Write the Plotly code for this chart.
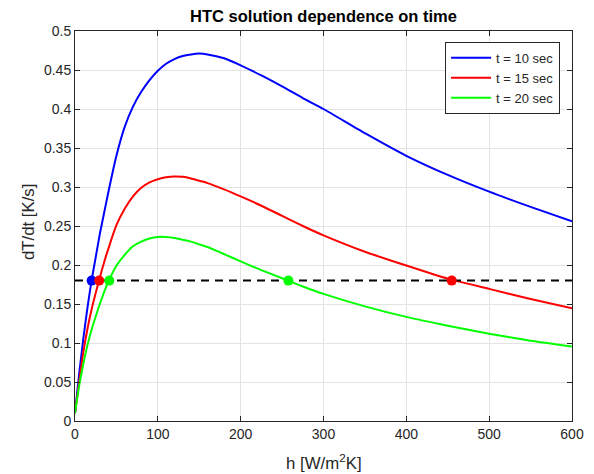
import plotly.graph_objects as go

# h values [W/m^2K]
h = [0, 5, 10, 15, 20, 25, 30, 35, 40, 50, 60, 70, 80, 90, 100, 110, 120, 130, 140,
     150, 160, 180, 200, 225, 250, 275, 300, 350, 400, 450, 500, 550, 600]

# dT/dt [K/s]
t10 = [0.01, 0.06, 0.105, 0.145, 0.18, 0.21, 0.240, 0.266, 0.292, 0.340, 0.377, 0.403,
       0.422, 0.437, 0.449, 0.458, 0.464, 0.468, 0.470, 0.471, 0.470, 0.465, 0.456,
       0.443, 0.429, 0.414, 0.400, 0.369, 0.340, 0.3155, 0.294, 0.2745, 0.256]
t15 = [0.01, 0.05, 0.088, 0.118, 0.143, 0.164, 0.184, 0.203, 0.220, 0.251, 0.272, 0.288,
       0.299, 0.306, 0.310, 0.3125, 0.3135, 0.313, 0.311, 0.308, 0.305, 0.297, 0.288,
       0.276, 0.263, 0.250, 0.238, 0.217, 0.1993, 0.1825, 0.1694, 0.1565, 0.1446]
t20 = [0.01, 0.045, 0.073, 0.097, 0.117, 0.134, 0.150, 0.165, 0.178, 0.199, 0.213, 0.224,
       0.230, 0.234, 0.236, 0.2358, 0.2345, 0.2325, 0.230, 0.2265, 0.223, 0.214, 0.2046,
       0.1935, 0.183, 0.1725, 0.163, 0.147, 0.1335, 0.1222, 0.1118, 0.103, 0.0956]

names = ["t = 10 sec", "t = 15 sec", "t = 20 sec"]
colors = ["#0000ff", "#ff0000", "#00ff00"]

# target rate and intersection points
target = 0.18
x_target = [0, 600]
int_h = [20.1, 29.2, 41.4, 257.6, 454.8]
int_color = ["#0000ff", "#ff0000", "#00ff00", "#00ff00", "#ff0000"]

font = "Liberation Sans, Arial, Helvetica, sans-serif"
txt = "#262626"

fig = go.Figure()
for ys, nm, c in zip([t10, t15, t20], names, colors):
    fig.add_trace(go.Scatter(x=h, y=ys, mode="lines", name=nm,
                             line=dict(color=c, width=2, shape="spline", smoothing=0.6)))

fig.add_trace(go.Scatter(x=x_target, y=[target, target], mode="lines", showlegend=False,
                         line=dict(color="black", width=2, dash="8px,6px")))
fig.add_trace(go.Scatter(x=int_h, y=[target] * len(int_h), mode="markers", showlegend=False,
                         marker=dict(color=int_color, size=10)))

axis_common = dict(
    showline=True, linecolor=txt, linewidth=1, mirror="ticks",
    ticks="inside", ticklen=5, tickcolor=txt,
    showgrid=True, gridcolor="#e3e3e3", gridwidth=1, zeroline=False,
    automargin=False,
    tickfont=dict(family=font, size=14, color=txt),
)

# page body has an 8px margin, so the figure is offset by 8px
W, H = 578, 466
ML, MT, PW, PH = 67, 23, 497, 390

fig.update_layout(
    width=W, height=H,
    margin=dict(l=ML, r=W - ML - PW, t=MT, b=H - MT - PH),
    paper_bgcolor="white", plot_bgcolor="white",
    font=dict(family=font, size=14, color=txt),
    title=dict(text="<b>HTC solution dependence on time</b>", x=(ML + PW / 2) / W,
               xanchor="center", y=1 - 2 / H, yanchor="top",
               font=dict(family=font, size=16.5, color="black")),
    xaxis=dict(range=[0, 600], dtick=100, **axis_common),
    yaxis=dict(range=[0, 0.5], dtick=0.05, **axis_common),
    legend=dict(x=0.976, y=0.972, xanchor="right", yanchor="top",
                bgcolor="white", bordercolor=txt, borderwidth=1,
                font=dict(family=font, size=13, color=txt),
                tracegroupgap=0, itemwidth=40),
    showlegend=True,
    annotations=[
        dict(text="h [W/m<sup>2</sup>K]", xref="paper", yref="paper", x=0.5, y=0,
             xanchor="center", yanchor="middle", yshift=-41, showarrow=False,
             font=dict(family=font, size=16.8, color=txt)),
        dict(text="dT/dt [K/s]", xref="paper", yref="paper", x=0, y=0.51,
             xanchor="center", yanchor="middle", xshift=-47, textangle=-90,
             showarrow=False, font=dict(family=font, size=16.8, color=txt)),
    ],
)

fig.write_html("out.html")
